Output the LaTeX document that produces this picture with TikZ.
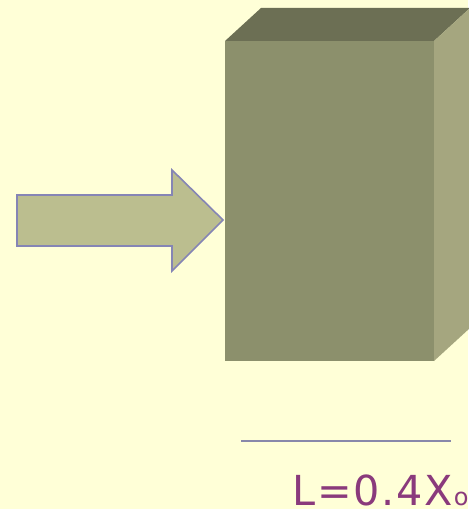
\documentclass[tikz,border=0pt]{standalone}
\usepackage{fontspec}
\setsansfont{DejaVu Sans}
\newcommand{\lsp}{\kern1.4pt}
\begin{document}
\begin{tikzpicture}[x=0.75pt,y=-0.75pt,
  arrowshape/.style={fill=arrowc,draw=arrowline,line width=1.2pt,line join=miter},
  rule/.style={draw=rulec,line width=1.2pt},
  label/.style={text=labelc,font=\sffamily\fontsize{31}{36}\selectfont,anchor=base west,inner sep=0pt}]
\definecolor{bgc}{HTML}{FFFFD7}
\definecolor{frontc}{HTML}{8C906C}
\definecolor{topc}{HTML}{6C6F54}
\definecolor{sidec}{HTML}{A5A67F}
\definecolor{arrowc}{HTML}{BBBE8F}
\definecolor{arrowline}{HTML}{8585B5}
\definecolor{rulec}{HTML}{8888AA}
\definecolor{labelc}{HTML}{8A3A7C}
\fill[bgc] (0,0) rectangle (468,509);
\useasboundingbox (0,0) rectangle (468,509);
% box
\fill[topc] (225,41) -- (261,8) -- (470,8) -- (434,41) -- cycle;
\fill[sidec] (434,41) -- (470,8) -- (470,328) -- (434,361) -- cycle;
\fill[frontc] (225,41) rectangle (434,361);
% arrow
\draw[arrowshape] (17,195) -- (172,195) -- (172,170) -- (223,220) -- (172,271) -- (172,246) -- (17,246) -- cycle;
% rule
\coordinate (r1) at (241,441);
\coordinate (r2) at (451,441);
\draw[rule] (r1) -- (r2);
\node[label] (lbl) at (292,505) {L\lsp=\lsp0\lsp.\lsp4\lsp X\kern0.5pt{\fontsize{18}{18}\selectfont o}};
\end{tikzpicture}
\end{document}
